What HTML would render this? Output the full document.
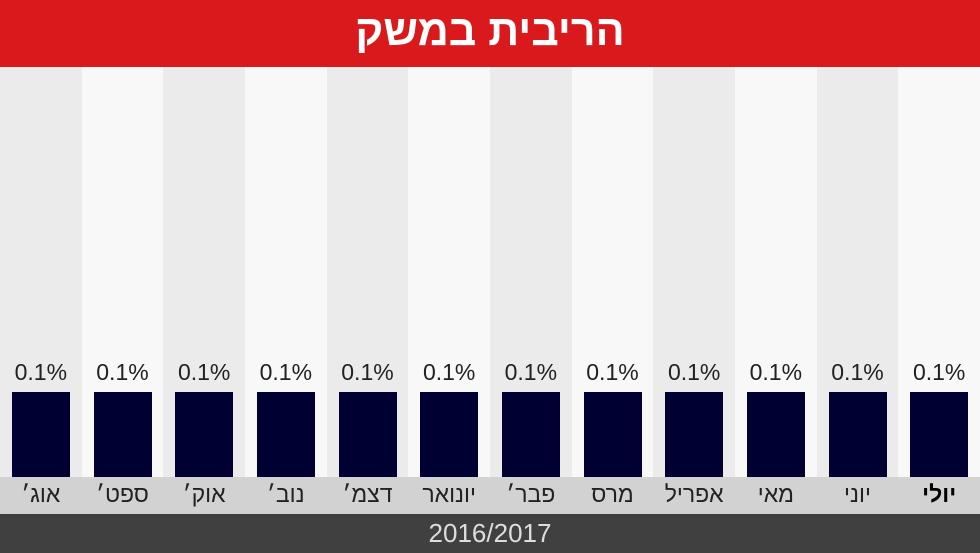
<!DOCTYPE html>
<html><head><meta charset="utf-8"><style>
body{margin:0;width:980px;height:553px;overflow:hidden;position:relative;font-family:"Liberation Sans","DejaVu Sans",sans-serif;background:#f8f8f8}
.hdr{position:absolute;left:0;top:0;width:980px;height:67px;background:#d9191c;color:#fff;font-weight:bold;font-size:43px;text-align:center;line-height:62px}
.col{position:absolute;top:67px;height:410px;width:81.67px}
.bar{position:absolute;top:392px;height:85px;width:58px;background:#000033}
.val{position:absolute;top:359px;width:81.67px;text-align:center;font-size:23px;color:#222}
.strip{position:absolute;left:0;top:477px;width:980px;height:37px;background:#d2d2d2;z-index:1}
.lab{position:absolute;top:481px;width:81.67px;text-align:center;font-size:23px;color:#222;z-index:2}
.foot{position:absolute;left:0;top:514px;width:980px;height:39px;background:#404040;color:#ddd;font-size:26px;text-align:center;line-height:38px}
</style></head><body>
<div class="hdr" dir="rtl">הריבית במשק</div>
<div class="col" style="left:0px;background:#ebebeb"></div>
<div class="col" style="left:81.67px;background:#f8f8f8"></div>
<div class="col" style="left:163.33px;background:#ebebeb"></div>
<div class="col" style="left:245px;background:#f8f8f8"></div>
<div class="col" style="left:326.67px;background:#ebebeb"></div>
<div class="col" style="left:408.33px;background:#f8f8f8"></div>
<div class="col" style="left:490px;background:#ebebeb"></div>
<div class="col" style="left:571.67px;background:#f8f8f8"></div>
<div class="col" style="left:653.33px;background:#ebebeb"></div>
<div class="col" style="left:735px;background:#f8f8f8"></div>
<div class="col" style="left:816.67px;background:#ebebeb"></div>
<div class="col" style="left:898.33px;background:#f8f8f8"></div>

<div class="bar" style="left:12px"></div>
<div class="bar" style="left:93.67px"></div>
<div class="bar" style="left:175.33px"></div>
<div class="bar" style="left:257px"></div>
<div class="bar" style="left:338.67px"></div>
<div class="bar" style="left:420.33px"></div>
<div class="bar" style="left:502px"></div>
<div class="bar" style="left:583.67px"></div>
<div class="bar" style="left:665.33px"></div>
<div class="bar" style="left:747px"></div>
<div class="bar" style="left:828.67px"></div>
<div class="bar" style="left:910.33px"></div>

<div class="val" style="left:0px">0.1%</div>
<div class="val" style="left:81.67px">0.1%</div>
<div class="val" style="left:163.33px">0.1%</div>
<div class="val" style="left:245px">0.1%</div>
<div class="val" style="left:326.67px">0.1%</div>
<div class="val" style="left:408.33px">0.1%</div>
<div class="val" style="left:490px">0.1%</div>
<div class="val" style="left:571.67px">0.1%</div>
<div class="val" style="left:653.33px">0.1%</div>
<div class="val" style="left:735px">0.1%</div>
<div class="val" style="left:816.67px">0.1%</div>
<div class="val" style="left:898.33px">0.1%</div>

<div class="strip"></div>
<div class="lab" dir="rtl" style="left:0px">אוג׳</div>
<div class="lab" dir="rtl" style="left:81.67px">ספט׳</div>
<div class="lab" dir="rtl" style="left:163.33px">אוק׳</div>
<div class="lab" dir="rtl" style="left:245px">נוב׳</div>
<div class="lab" dir="rtl" style="left:326.67px">דצמ׳</div>
<div class="lab" dir="rtl" style="left:408.33px">יונואר</div>
<div class="lab" dir="rtl" style="left:490px">פבר׳</div>
<div class="lab" dir="rtl" style="left:571.67px">מרס</div>
<div class="lab" dir="rtl" style="left:653.33px">אפריל</div>
<div class="lab" dir="rtl" style="left:735px">מאי</div>
<div class="lab" dir="rtl" style="left:816.67px">יוני</div>
<div class="lab" dir="rtl" style="left:898.33px;font-weight:bold;color:#000">יולי</div>
<div class="foot">2016/2017</div>
</body></html>
